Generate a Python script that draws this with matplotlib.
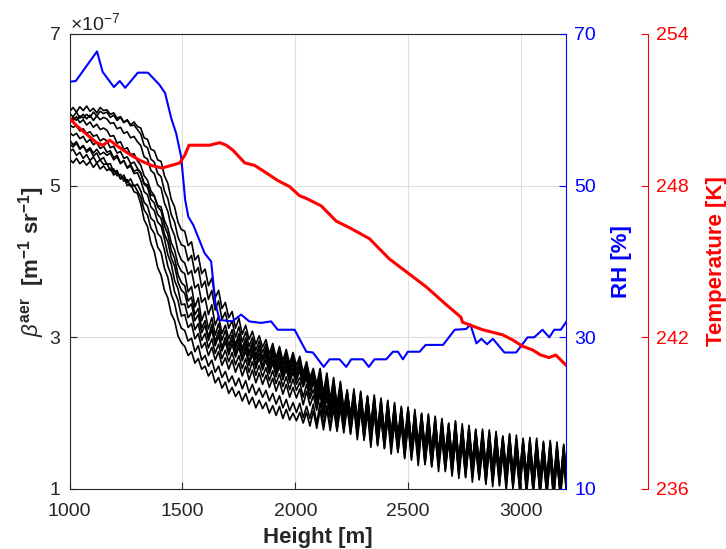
import numpy as np
import matplotlib
matplotlib.use("Agg")
import matplotlib.pyplot as plt
from matplotlib.ticker import ScalarFormatter

plt.rcParams["font.family"] = "Liberation Sans"
plt.rcParams["mathtext.fontset"] = "custom"
plt.rcParams["mathtext.rm"] = "Liberation Sans"
plt.rcParams["mathtext.it"] = "Liberation Sans:italic"
plt.rcParams["mathtext.bf"] = "Liberation Sans:bold"

# lidar range bins, 15 m resolution
HEIGHT = np.arange(1000, 3206, 15)

# aerosol backscatter profiles, in 1e-9 m^-1 sr^-1
BETA_01 = [560, 554, 558, 549, 553, 544, 548, 539, 543, 534, 537,
           528, 529, 518, 520, 509, 511, 500, 502, 492, 490,
           476, 455, 446, 424, 413, 392, 382,
           362, 352, 331, 322, 302, 293,
           288, 276, 281, 266, 272, 258, 262,
           249, 256, 240, 247, 233, 241, 226,
           234, 222, 229, 216, 226, 212, 221, 207, 217, 206,
           214, 200, 210, 197, 209, 193, 205, 191, 200, 190,
           201, 187, 201, 183, 203, 180, 204, 178, 205, 177, 206, 176, 207, 174, 208, 172,
           209, 165, 204, 167, 201, 155, 202, 157, 193, 154, 195, 146, 188, 148, 184, 140,
           186, 138, 178, 131, 179, 133, 171, 129, 174, 123, 166, 125, 163, 117, 166, 114,
           159, 116, 162, 109, 155, 112, 151, 106, 156, 103, 149, 106, 148, 98, 151, 100,
           143, 99, 147, 93, 141, 96, 145, 90, 138, 93, 141, 86, 139, 89, 133, 87]
BETA_02 = [545, 548, 540, 544, 536, 541, 533, 538, 530, 534, 528,
           529, 520, 522, 513, 515, 506, 508, 499, 501, 493,
           485, 468, 461, 444, 437, 419, 412,
           391, 379, 357, 345, 324, 312,
           309, 295, 299, 281, 289, 270, 276,
           262, 270, 254, 262, 247, 255, 241,
           249, 236, 246, 232, 243, 227, 238, 224, 233, 221,
           230, 216, 226, 212, 223, 207, 218, 203, 214, 201,
           213, 194, 209, 193, 212, 186, 214, 184, 210, 183, 213, 178, 210, 179, 213, 174,
           208, 173, 209, 164, 206, 160, 204, 158, 200, 153, 194, 155, 190, 149, 191, 142,
           188, 141, 181, 139, 182, 132, 179, 130, 172, 130, 173, 123, 170, 120, 164, 121,
           166, 115, 163, 116, 157, 113, 159, 108, 154, 110, 156, 104, 153, 106, 149, 103,
           151, 98, 146, 101, 148, 95, 143, 97, 145, 91, 144, 90, 138, 92, 141, 86]
BETA_03 = [535, 530, 536, 529, 533, 527, 532, 524, 530, 522, 526,
           520, 523, 514, 518, 509, 514, 504, 509, 499, 502,
           493, 478, 473, 457, 453, 437, 432,
           415, 394, 382, 360, 349, 328,
           330, 313, 318, 298, 305, 286, 293,
           276, 287, 270, 281, 263, 273, 258,
           270, 254, 266, 249, 262, 244, 257, 240, 253, 238,
           250, 234, 246, 229, 242, 225, 238, 221, 234, 220,
           232, 211, 229, 210, 223, 204, 226, 195, 221, 194, 222, 186, 219, 186, 214, 181,
           217, 173, 212, 172, 207, 168, 208, 160, 204, 161, 197, 158, 198, 150, 195, 146,
           192, 146, 185, 143, 186, 136, 183, 137, 176, 134, 177, 127, 174, 123, 171, 125,
           166, 123, 168, 116, 165, 118, 159, 112, 162, 110, 160, 113, 154, 106, 157, 108,
           151, 106, 153, 100, 152, 102, 147, 97, 149, 99, 144, 93, 146, 95, 141, 94]
BETA_04 = [570, 566, 569, 562, 565, 557, 561, 554, 557, 549, 552,
           544, 546, 537, 540, 530, 533, 523, 526, 516, 517,
           507, 492, 488, 472, 467, 452, 447,
           430, 409, 397, 375, 364, 343,
           344, 326, 332, 310, 318, 296, 305,
           286, 298, 279, 291, 272, 283, 268,
           280, 264, 276, 259, 272, 254, 268, 250, 263, 248,
           260, 243, 256, 239, 252, 235, 248, 231, 245, 230,
           241, 221, 238, 219, 231, 211, 233, 201, 230, 200, 223, 195, 224, 186, 222, 184,
           215, 180, 216, 171, 213, 171, 207, 168, 207, 160, 203, 161, 197, 157, 194, 153,
           195, 145, 192, 142, 189, 139, 186, 136, 183, 133, 180, 130, 173, 130, 175, 124,
           173, 122, 167, 123, 168, 117, 166, 115, 161, 117, 163, 111, 161, 113, 156, 111,
           158, 105, 156, 107, 151, 105, 154, 100, 152, 102, 147, 100, 149, 94, 148, 97]
BETA_05 = [580, 577, 579, 572, 575, 569, 571, 565, 567, 559, 562,
           559, 550, 552, 543, 545, 536, 538, 529, 531, 523,
           517, 502, 498, 482, 477, 462, 457,
           436, 426, 405, 394, 373, 362,
           358, 339, 344, 322, 330, 306, 316,
           296, 310, 289, 302, 282, 294, 277,
           291, 274, 287, 269, 282, 263, 278, 259, 273, 257,
           270, 252, 266, 248, 262, 244, 258, 240, 254, 238,
           247, 235, 246, 221, 243, 214, 240, 212, 231, 205, 232, 195, 228, 193, 220, 186,
           221, 178, 219, 177, 211, 173, 213, 166, 209, 162, 206, 159, 203, 159, 196, 155,
           197, 147, 194, 148, 187, 145, 188, 138, 185, 135, 182, 136, 175, 132, 177, 126,
           175, 124, 173, 125, 166, 123, 168, 117, 167, 115, 165, 117, 159, 115, 162, 109,
           160, 111, 154, 109, 157, 103, 156, 106, 150, 104, 153, 98, 151, 100, 146, 99]
BETA_06 = [590, 586, 591, 583, 587, 580, 584, 577, 581, 574, 576,
           573, 565, 566, 556, 558, 548, 550, 541, 542, 533,
           527, 513, 507, 493, 487, 472, 467,
           447, 436, 415, 404, 383, 372,
           368, 348, 353, 330, 338, 312, 322,
           300, 317, 294, 309, 286, 300, 282,
           297, 279, 293, 273, 288, 268, 284, 264, 279, 262,
           276, 257, 271, 253, 267, 249, 263, 245, 259, 243,
           256, 235, 251, 230, 244, 222, 245, 211, 240, 208, 231, 202, 231, 191, 227, 188,
           219, 184, 220, 175, 218, 171, 215, 172, 207, 168, 208, 161, 205, 157, 202, 157,
           195, 153, 196, 146, 193, 143, 190, 144, 183, 141, 184, 134, 181, 134, 175, 132,
           177, 126, 175, 127, 168, 125, 170, 119, 169, 121, 163, 119, 165, 113, 164, 115,
           158, 113, 160, 107, 159, 109, 154, 108, 156, 102, 155, 104, 149, 102, 152, 97]
BETA_07 = [555, 551, 556, 548, 552, 546, 550, 543, 548, 541, 544,
           540, 543, 534, 538, 529, 533, 524, 528, 519, 521,
           516, 503, 501, 488, 486, 474, 472,
           454, 444, 425, 415, 396, 387,
           384, 360, 367, 340, 352, 322, 334,
           311, 326, 303, 318, 296, 309, 289,
           303, 285, 299, 280, 294, 276, 290, 271, 285, 269,
           281, 262, 277, 258, 273, 254, 269, 250, 265, 248,
           260, 239, 255, 234, 247, 226, 247, 215, 243, 207, 237, 201, 233, 197, 224, 190,
           225, 182, 222, 181, 215, 177, 217, 170, 213, 166, 210, 163, 207, 163, 200, 159,
           201, 151, 198, 152, 191, 149, 192, 142, 189, 139, 186, 140, 179, 136, 181, 130,
           179, 128, 177, 129, 170, 127, 172, 121, 171, 119, 169, 121, 163, 119, 166, 113,
           164, 115, 158, 113, 161, 107, 160, 110, 154, 108, 157, 102, 155, 104, 150, 103]
BETA_08 = [595, 591, 597, 589, 594, 588, 593, 586, 592, 587, 590,
           588, 582, 583, 575, 577, 569, 571, 563, 565, 558,
           553, 538, 535, 520, 516, 501, 497,
           477, 466, 445, 434, 413, 402,
           398, 383, 388, 365, 370, 346, 352,
           330, 343, 316, 328, 305, 316, 298,
           310, 290, 305, 285, 299, 280, 294, 276, 289, 273,
           286, 266, 282, 262, 278, 258, 274, 254, 270, 252,
           265, 243, 260, 239, 251, 230, 251, 218, 247, 211, 241, 204, 236, 201, 227, 193,
           228, 187, 224, 182, 222, 177, 219, 175, 217, 170, 212, 167, 211, 161, 206, 160,
           205, 153, 200, 152, 199, 147, 194, 146, 193, 141, 188, 140, 187, 134, 185, 132,
           181, 132, 179, 129, 178, 125, 176, 123, 173, 123, 171, 121, 169, 117, 170, 115,
           166, 115, 164, 113, 163, 109, 164, 108, 160, 108, 159, 104, 157, 104, 156, 101]
BETA_09 = [598, 603, 597, 604, 599, 605, 598, 602, 596, 603, 599,
           600, 594, 596, 589, 591, 584, 586, 579, 580, 574,
           568, 553, 550, 535, 531, 516, 512,
           493, 483, 462, 452, 432, 422,
           420, 401, 408, 385, 392, 366, 374,
           350, 362, 336, 348, 324, 333, 312,
           322, 300, 314, 294, 307, 288, 300, 283, 295, 280,
           291, 271, 287, 267, 283, 263, 279, 259, 275, 257,
           270, 248, 264, 243, 255, 234, 255, 222, 250, 214, 244, 207, 239, 203, 229, 195,
           226, 191, 227, 182, 221, 182, 222, 175, 218, 171, 215, 172, 208, 168, 209, 160,
           206, 160, 199, 157, 200, 150, 197, 147, 194, 144, 191, 145, 184, 141, 190, 135,
           180, 137, 182, 130, 179, 132, 173, 130, 176, 124, 174, 126, 168, 124, 171, 118,
           165, 120, 167, 114, 166, 116, 161, 115, 163, 109, 162, 111, 156, 109, 159, 104]
BETA_10 = [585, 590, 586, 592, 589, 594, 590, 597, 592, 598, 595,
           597, 590, 593, 586, 590, 583, 587, 580, 584, 578,
           576, 563, 561, 548, 546, 534, 532,
           513, 503, 482, 472, 452, 442,
           440, 421, 426, 402, 408, 384, 390,
           368, 378, 352, 362, 338, 346, 326,
           334, 312, 325, 304, 316, 297, 308, 291, 302, 287,
           297, 278, 292, 273, 288, 269, 284, 265, 280, 263,
           275, 253, 268, 247, 259, 238, 259, 226, 253, 217, 247, 210, 242, 205, 231, 197,
           232, 189, 229, 188, 223, 184, 224, 177, 220, 173, 217, 170, 214, 170, 207, 166,
           208, 158, 205, 159, 198, 156, 199, 149, 196, 146, 193, 147, 186, 143, 188, 137,
           186, 135, 184, 136, 177, 134, 179, 128, 178, 126, 176, 128, 170, 126, 173, 120,
           171, 122, 165, 120, 168, 114, 167, 117, 161, 115, 164, 109, 162, 111, 157, 110]

# radiosonde relative humidity
RH_HEIGHT = [1000, 1027, 1121, 1146, 1196, 1222, 1246, 1302, 1347, 1398, 1423,
             1450, 1472, 1494, 1512, 1526, 1548, 1598, 1627, 1646, 1664, 1721,
             1760, 1796, 1848, 1893, 1922, 1997, 2049, 2078, 2126, 2152, 2196,
             2226, 2248, 2300, 2326, 2351, 2403, 2433, 2455, 2477, 2499, 2551,
             2578, 2655, 2707, 2758, 2776, 2803, 2825, 2850, 2876, 2927, 2979,
             3030, 3059, 3096, 3126, 3148, 3177, 3200]
RH_VALUE = [63.7, 63.8, 67.7, 65.0, 63.0, 63.8, 62.9, 64.9, 64.9, 63.3, 62.2,
            58.9, 56.9, 53.8, 48.1, 45.9, 44.8, 41.1, 40.0, 34.5, 32.3, 32.1,
            33.0, 32.1, 31.9, 32.1, 31.0, 31.0, 28.1, 28.0, 26.1, 27.1, 27.1,
            26.1, 27.1, 27.1, 26.1, 27.1, 27.1, 28.1, 28.1, 27.1, 28.1, 28.1,
            29.0, 29.0, 31.0, 31.1, 31.7, 29.2, 29.8, 29.1, 29.8, 28.0, 28.0,
            30.0, 30.0, 31.0, 30.0, 31.0, 31.0, 32.0]

# radiosonde temperature
T_HEIGHT = [1000, 1027, 1119, 1148, 1177, 1222, 1273, 1311, 1362, 1409, 1450,
            1488, 1510, 1529, 1621, 1665, 1694, 1724, 1776, 1820, 1872, 1923,
            1975, 2019, 2048, 2115, 2181, 2248, 2329, 2417, 2506, 2580, 2668,
            2734, 2741, 2800, 2830, 2919, 2963, 3007, 3052, 3088, 3125, 3155,
            3200]
T_VALUE = [250.67, 250.4, 249.7, 249.6, 249.8, 249.5, 249.2, 249.0, 248.8,
           248.7, 248.8, 248.9, 249.2, 249.6, 249.6, 249.7, 249.6, 249.4,
           248.9, 248.8, 248.5, 248.2, 247.96, 247.6, 247.5, 247.2, 246.6,
           246.3, 245.9, 245.1, 244.5, 244.0, 243.3, 242.8, 242.6, 242.4,
           242.3, 242.1, 241.9, 241.65, 241.5, 241.3, 241.2, 241.3, 240.9]

profiles = [BETA_01, BETA_02, BETA_03, BETA_04, BETA_05,
            BETA_06, BETA_07, BETA_08, BETA_09, BETA_10]

dark = "0.15"
fig = plt.figure(figsize=(7.26, 5.49), dpi=100)
ax = fig.add_axes([0.096, 0.1093, 0.6836, 0.8288])

for prof in profiles:
    ax.plot(HEIGHT, np.array(prof) * 1e-9, color="k", lw=1.2)

ax.set_xlim(1000, 3200)
ax.set_ylim(1e-7, 7e-7)
ax.set_xticks([1000, 1500, 2000, 2500, 3000])
ax.set_yticks([1e-7, 3e-7, 5e-7, 7e-7])
fmt = ScalarFormatter(useMathText=True)
fmt.set_powerlimits((0, 0))
ax.yaxis.set_major_formatter(fmt)
ax.yaxis.get_offset_text().set_fontsize(14)
ax.yaxis.get_offset_text().set_color(dark)
ax.grid(True, color="0.87", lw=0.8)
ax.set_axisbelow(True)
ax.tick_params(direction="in", length=5, width=0.8, labelsize=14,
               colors=dark, pad=6)
ax.tick_params(axis="x", pad=10)
for side in ("left", "bottom", "top"):
    ax.spines[side].set_color(dark)
ax.spines["right"].set_visible(False)
ax.set_xlabel("Height [m]", fontsize=16, fontweight="bold", color=dark,
              labelpad=5)
ax.set_ylabel(r"$\beta^{\mathbf{aer}}$  [m$^{\mathbf{-1}}$ sr$^{\mathbf{-1}}$]",
              fontsize=16, fontweight="bold", color=dark)
ax.yaxis.set_label_coords(-0.045, 0.5)

# relative humidity on the inner right axis
ax_rh = ax.twinx()
ax_rh.plot(RH_HEIGHT, RH_VALUE, color="blue", lw=1.5)
ax_rh.set_ylim(10, 70)
ax_rh.set_yticks([10, 30, 50, 70])
ax_rh.tick_params(axis="y", direction="in", length=5, width=0.8,
                  labelsize=14, colors="blue", pad=6)
for side in ("left", "bottom", "top"):
    ax_rh.spines[side].set_visible(False)
ax_rh.spines["right"].set_color("blue")
ax_rh.set_ylabel("RH [%]", fontsize=16, fontweight="bold", color="blue",
                 labelpad=11)

# temperature on an offset outer axis
ax_t = ax.twinx()
ax_t.spines["right"].set_position(("axes", 1.165))
ax_t.plot(T_HEIGHT, T_VALUE, color="red", lw=2.2)
ax_t.set_ylim(236, 254)
ax_t.set_yticks([236, 242, 248, 254])
ax_t.tick_params(axis="y", direction="in", length=5, width=0.8,
                 labelsize=14, colors="red", pad=6)
for side in ("left", "bottom", "top"):
    ax_t.spines[side].set_visible(False)
ax_t.spines["right"].set_color("red")
ax_t.set_ylabel("Temperature [K]", fontsize=16, fontweight="bold",
                color="red", labelpad=12)

fig.savefig("out.png", dpi=100)
